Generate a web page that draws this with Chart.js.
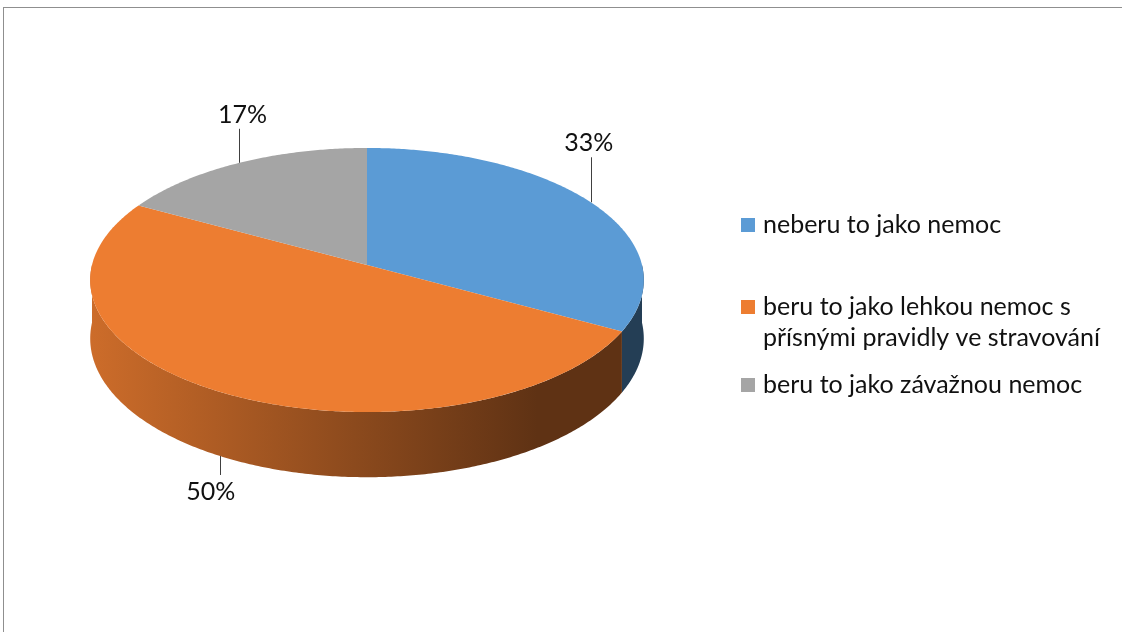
<!DOCTYPE html>
<html lang="cs">
<head>
<meta charset="UTF-8">
<title>Vnímání nemoci</title>
<script src="https://cdn.jsdelivr.net/npm/chart.js"></script>
<style>
  body { margin: 0; background: #fff; }
  canvas { display: block; }
</style>
</head>
<body>
<canvas id="graf" width="1122" height="632"></canvas>
<script>
const kategorie = [
  'neberu to jako nemoc',
  ['beru to jako lehkou nemoc s', 'přísnými pravidly ve stravování'],
  'beru to jako závažnou nemoc'
];
const podily = [33, 50, 17];
const popisky = ['33%', '50%', '17%'];
const barvy = ['#5B9BD5', '#ED7D31', '#A5A5A5'];

const PISMO = 'Lato, "Open Sans", sans-serif';

// tilted disc: vertical squash, perspective and thickness (relative to radius)
const NAKLON = 0.474;
const PERSP = 0.1136;
const TLOUSTKA = 0.21;

function hexRgb(hex) {
  const n = parseInt(hex.slice(1), 16);
  return [(n >> 16) & 255, (n >> 8) & 255, n & 255];
}
function ztmav(hex, f) {
  const [r, g, b] = hexRgb(hex);
  return `rgb(${Math.round(r * f)},${Math.round(g * f)},${Math.round(b * f)})`;
}

// phi = angle clockwise from 12 o'clock
function bod(arc, phi, dole) {
  const c = Math.cos(phi), s = Math.sin(phi);
  const w = 1 + PERSP * c;
  const rx = arc.outerRadius, ry = rx * NAKLON;
  return {
    x: arc.x + rx * s / w,
    y: arc.y - ry * c / w + (dole ? rx * TLOUSTKA / w : 0)
  };
}

function body(arc, a, b, dole) {
  const kroky = Math.max(2, Math.ceil((b - a) / 0.01));
  const out = [];
  for (let i = 0; i <= kroky; i++) out.push(bod(arc, a + (b - a) * i / kroky, dole));
  return out;
}

const pie3d = {
  id: 'pie3d',
  beforeDatasetsDraw(chart) {
    const ctx = chart.ctx;
    const arcs = chart.getDatasetMeta(0).data;
    const ds = chart.data.datasets[0];
    ctx.save();

    // side walls, only the near half is visible
    arcs.forEach((arc, i) => {
      const a = Math.max(arc.startAngle + Math.PI / 2, Math.PI / 2);
      const b = Math.min(arc.endAngle + Math.PI / 2, 3 * Math.PI / 2);
      if (b <= a) return;
      const horni = body(arc, a, b, false);
      const dolni = body(arc, a, b, true).reverse();
      const rx = arc.outerRadius;
      const grad = ctx.createLinearGradient(arc.x - rx, 0, arc.x + rx, 0);
      grad.addColorStop(0, ztmav(ds.backgroundColor[i], 0.86));
      grad.addColorStop(0.81, ztmav(ds.backgroundColor[i], 0.4));
      grad.addColorStop(1, ztmav(ds.backgroundColor[i], 0.4));
      ctx.beginPath();
      horni.concat(dolni).forEach((p, k) => k ? ctx.lineTo(p.x, p.y) : ctx.moveTo(p.x, p.y));
      ctx.closePath();
      ctx.fillStyle = grad;
      ctx.fill();
    });

    // top face
    arcs.forEach((arc, i) => {
      const a = arc.startAngle + Math.PI / 2, b = arc.endAngle + Math.PI / 2;
      ctx.beginPath();
      ctx.moveTo(arc.x, arc.y);
      body(arc, a, b, false).forEach(p => ctx.lineTo(p.x, p.y));
      ctx.closePath();
      ctx.fillStyle = ds.backgroundColor[i];
      ctx.fill();
    });
    ctx.restore();
    // the flat default arcs are not drawn
    return false;
  },
  afterDraw(chart, args, opts) {
    const ctx = chart.ctx;
    const ds = chart.data.datasets[0];
    const arcs = chart.getDatasetMeta(0).data;
    ctx.save();

    // percentage labels with leader lines
    ctx.font = `${opts.velikost}px ${PISMO}`;
    ctx.textAlign = 'center';
    ctx.textBaseline = 'alphabetic';
    ctx.strokeStyle = '#404040';
    ctx.lineWidth = 1;
    arcs.forEach((arc, i) => {
      const phi = (arc.startAngle + arc.endAngle) / 2 + Math.PI / 2;
      const vpredu = Math.cos(phi) < 0;
      const p = bod(arc, phi, vpredu);
      const x = Math.round(p.x) + 0.5;
      const delka = opts.vodicka[i];
      const konec = vpredu ? p.y + delka : p.y - delka;
      ctx.beginPath();
      ctx.moveTo(x, p.y);
      ctx.lineTo(x, konec);
      ctx.stroke();
      ctx.fillStyle = '#111';
      ctx.fillText(popisky[i], p.x + opts.posun[i], vpredu ? konec + 25 : konec - 6);
    });

    // frame
    ctx.fillStyle = '#8f8f8f';
    ctx.fillRect(3, 7, chart.width - 3, 1);
    ctx.fillRect(3, 7, 1, chart.height - 7);

    // legend
    ctx.textAlign = 'left';
    ctx.textBaseline = 'middle';
    chart.data.labels.forEach((lab, i) => {
      const y = opts.legendaY[i];
      ctx.fillStyle = ds.backgroundColor[i];
      ctx.fillRect(opts.legendaX, y - 7, 14, 14);
      ctx.fillStyle = '#111';
      [].concat(lab).forEach((radek, k) => {
        ctx.fillText(radek, opts.legendaX + 22, y + k * 31);
      });
    });
    ctx.restore();
  }
};

new Chart(document.getElementById('graf'), {
  type: 'pie',
  data: {
    labels: kategorie,
    datasets: [{
      data: podily,
      backgroundColor: barvy,
      borderWidth: 0,
      radius: 275
    }]
  },
  options: {
    responsive: false,
    devicePixelRatio: 1,
    animation: false,
    events: [],
    layout: { padding: { left: 0, top: 0, right: 388, bottom: 102 } },
    plugins: {
      legend: { display: false },
      tooltip: { enabled: false },
      pie3d: {
        velikost: 25,
        vodicka: [45, 19, 34],
        posun: [-2, -9, 3],
        legendaX: 741,
        legendaY: [225, 307, 385]
      }
    }
  },
  plugins: [pie3d]
});
</script>
</body>
</html>
